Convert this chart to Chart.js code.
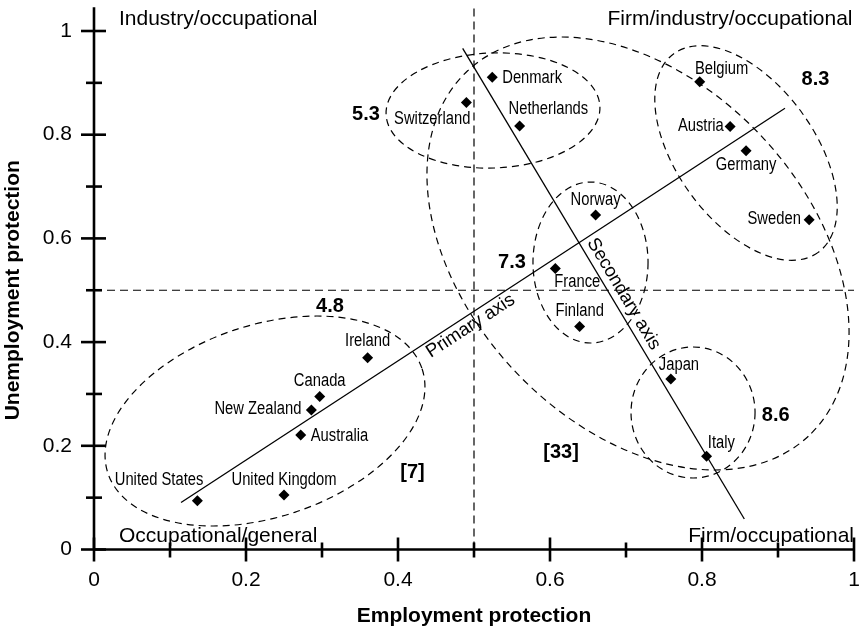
<!DOCTYPE html>
<html><head><meta charset="utf-8">
<script src="https://cdn.jsdelivr.net/npm/chart.js@4"></script>
<style>html,body{margin:0;padding:0;background:#fff}#wrap{width:862px;height:631px;position:relative}</style>
</head><body><div id="wrap"><canvas id="c" width="862" height="631"></canvas></div>
<script>
// ---------- data ----------
const countries = ['United States','United Kingdom','Australia','New Zealand','Canada','Ireland',
  'Switzerland','Denmark','Netherlands','Belgium','Austria','Germany','Sweden',
  'Norway','France','Finland','Japan','Italy'];
const employmentProtection = [0.136,0.250,0.272,0.286,0.297,0.360,
  0.490,0.524,0.560,0.797,0.837,0.858,0.941,
  0.660,0.607,0.639,0.759,0.806];
const unemploymentProtection = [0.094,0.105,0.221,0.269,0.295,0.370,
  0.862,0.911,0.817,0.902,0.816,0.769,0.636,
  0.645,0.542,0.430,0.329,0.180];
const xTickValues = [0,0.1,0.2,0.3,0.4,0.5,0.6,0.7,0.8,0.9,1];
const yTickValues = [0,0.1,0.2,0.3,0.4,0.5,0.6,0.7,0.8,0.9,1];
const primaryAxisX = [0.1145, 0.9092];
const primaryAxisY = [0.0907, 0.851];
const secondaryAxisX = [0.4851, 0.8557];
const secondaryAxisY = [0.9666, 0.0588];
const splitX = 0.5;
const splitY = 0.5;
const clusterScores = ['4.8','5.3','7.3','8.3','8.6','[7]','[33]'];
const clusterScoreX = [0.3105,0.3579,0.550,0.9493,0.897,0.4191,0.6145];
const clusterScoreY = [0.4586,0.8284,0.5423,0.8959,0.2478,0.1379,0.1765];
const quadrantNames = ['Industry/occupational','Firm/industry/occupational','Occupational/general','Firm/occupational'];
const axisNames = ['Primary axis','Secondary axis'];

// ---------- layout (positions / sizes / styles) ----------
const FONT = "'Liberation Sans', Arial, sans-serif";
const NARROW_SCALE = 0.82;
const yAxisTop = 1.046;
const labelLayout = [ // [align, dx, dy] in px relative to the marker
  ['right',6,-20.7],['center',0,-15],['left',10,1],['right',-10,-0.5],['center',0,-15.7],['center',0,-16.2],
  ['right',4,16.3],['left',10,0.8],['left',-11,-16.5],['left',-4.7,-13.2],['right',-6.3,-0.2],['center',0,14.5],['right',-8.3,-0.5],
  ['center',0,-15.5],['left',-1,13.7],['center',0,-15.7],['left',-12,-13.5],['left',1.3,-13.5]
];
const ellipses = [ // centre in data units, radii in x-axis units, angle in degrees
  {cx:0.225, cy:0.2478, rx:0.2178, ry:0.1263, rot:-18.4},
  {cx:0.525, cy:0.8467, rx:0.1408, ry:0.0757, rot:-2},
  {cx:0.8579, cy:0.7647, rx:0.1616, ry:0.0907, rot:54},
  {cx:0.6533, cy:0.5535, rx:0.0757, ry:0.1059, rot:0},
  {cx:0.7882, cy:0.2642, rx:0.0816, ry:0.0862, rot:0},
  {cx:0.7158, cy:0.5709, rx:0.3287, ry:0.2241, rot:47}
];
const isMajor = v => Math.round(v*10) % 2 === 0;
const fmt = v => String(Number(v.toFixed(1)));
const zeroPad = s => { s.paddingTop = 0; s.paddingBottom = 0; s.paddingLeft = 0; s.paddingRight = 0; };

const decor = {
  id: 'decor',
  afterDraw(chart) {
    const {ctx, scales:{x, y}, chartArea:ca} = chart;
    const px = v => x.getPixelForValue(v), py = v => y.getPixelForValue(v);
    const unit = px(1) - px(0);
    ctx.save();
    ctx.strokeStyle = '#000'; ctx.fillStyle = '#000';
    // ellipses
    ctx.lineWidth = 1.2; ctx.setLineDash([7,5]);
    ellipses.forEach(e => {
      ctx.beginPath();
      ctx.ellipse(px(e.cx), py(e.cy), e.rx*unit, e.ry*unit, e.rot*Math.PI/180, 0, Math.PI*2);
      ctx.stroke();
    });
    ctx.setLineDash([]);
    // axes
    const x0 = px(0), y0 = py(0);
    ctx.lineWidth = 2.6;
    ctx.beginPath(); ctx.moveTo(x0, y0); ctx.lineTo(x0, py(yAxisTop)); ctx.stroke();
    ctx.beginPath(); ctx.moveTo(x0, y0); ctx.lineTo(px(1), y0); ctx.stroke();
    xTickValues.forEach(v => {
      const p = px(v), m = isMajor(v);
      ctx.beginPath(); ctx.moveTo(p, y0 - (m?12:7)); ctx.lineTo(p, y0 + (m?12:8)); ctx.stroke();
    });
    yTickValues.forEach(v => {
      const p = py(v), m = isMajor(v);
      ctx.beginPath(); ctx.moveTo(x0 - (m?13:8), p); ctx.lineTo(x0 + (m?12:8), p); ctx.stroke();
    });
    // country labels (narrow face)
    ctx.font = '18px ' + FONT;
    ctx.textBaseline = 'middle';
    countries.forEach((c,i) => {
      const [al, dx, dy] = labelLayout[i];
      ctx.save();
      ctx.translate(px(employmentProtection[i]) + dx, py(unemploymentProtection[i]) + dy);
      ctx.scale(NARROW_SCALE, 1);
      ctx.textAlign = al;
      ctx.fillText(c, 0, 0);
      ctx.restore();
    });
    // cluster scores
    ctx.font = 'bold 20px ' + FONT;
    ctx.textAlign = 'center'; ctx.textBaseline = 'alphabetic';
    clusterScores.forEach((s,i) => ctx.fillText(s, px(clusterScoreX[i]), py(clusterScoreY[i])));
    // quadrant names
    ctx.font = '21px ' + FONT;
    ctx.textAlign = 'left'; ctx.fillText(quadrantNames[0], ca.left + 25, ca.top - 6);
    ctx.textAlign = 'right'; ctx.fillText(quadrantNames[1], ca.right - 1.5, ca.top - 6);
    ctx.textAlign = 'left'; ctx.fillText(quadrantNames[2], ca.left + 25, ca.bottom - 8);
    ctx.textAlign = 'right'; ctx.fillText(quadrantNames[3], ca.right, ca.bottom - 8);
    // axis names along the lines
    ctx.font = '18.5px ' + FONT;
    ctx.textAlign = 'center'; ctx.textBaseline = 'middle';
    const lineText = (txt, xs, ys, t, off) => {
      const ax = px(xs[0]), ay = py(ys[0]), bx = px(xs[1]), by = py(ys[1]);
      let ang = Math.atan2(by - ay, bx - ax);
      if (ang > Math.PI/2) ang -= Math.PI; if (ang < -Math.PI/2) ang += Math.PI;
      ctx.save();
      ctx.translate(ax + (bx-ax)*t, ay + (by-ay)*t);
      ctx.rotate(ang);
      ctx.fillText(txt, 0, off);
      ctx.restore();
    };
    lineText(axisNames[0], primaryAxisX, primaryAxisY, 0.47, 10.5);
    lineText(axisNames[1], secondaryAxisX, secondaryAxisY, 0.535, -12);
    ctx.restore();
  }
};

const pts = countries.map((c,i) => ({x: employmentProtection[i], y: unemploymentProtection[i]}));
new Chart(document.getElementById('c'), {
  type: 'scatter',
  data: { datasets: [
    { label: 'Countries', data: pts, pointStyle: 'rectRot', pointRadius: 5.5, pointHoverRadius: 5.5,
      backgroundColor: '#000', borderColor: '#000', borderWidth: 0 },
    { label: axisNames[0], type: 'line', data: [{x:primaryAxisX[0], y:primaryAxisY[0]},{x:primaryAxisX[1], y:primaryAxisY[1]}],
      borderColor: '#000', borderWidth: 1.3, pointRadius: 0, fill: false, clip: false },
    { label: axisNames[1], type: 'line', data: [{x:secondaryAxisX[0], y:secondaryAxisY[0]},{x:secondaryAxisX[1], y:secondaryAxisY[1]}],
      borderColor: '#000', borderWidth: 1.3, pointRadius: 0, fill: false, clip: false },
    { label: 'split-h', type: 'line', data: [{x:0, y:splitY},{x:1, y:splitY}],
      borderColor: '#000', borderWidth: 1.2, borderDash: [8,5], pointRadius: 0, fill: false, clip: false },
    { label: 'split-v', type: 'line', data: [{x:splitX, y:0},{x:splitX, y:yAxisTop}],
      borderColor: '#000', borderWidth: 1.2, borderDash: [8,5], pointRadius: 0, fill: false, clip: false }
  ]},
  options: {
    responsive: false, animation: false, devicePixelRatio: 1,
    layout: { padding: { top: 31, right: 8, left: 0, bottom: 0 } },
    plugins: { legend: { display: false }, tooltip: { enabled: false } },
    scales: {
      x: { type: 'linear', min: 0, max: 1,
        afterBuildTicks: s => { s.ticks = xTickValues.map(v => ({value: v})); },
        afterFit: s => { s.height = 81.5; zeroPad(s); },
        grid: { display: false, drawTicks: false }, border: { display: false },
        ticks: { padding: 18.6, color: '#000', font: { family: FONT, size: 21 }, maxRotation: 0, autoSkip: false,
          callback: v => isMajor(v) ? fmt(v) : '' },
        title: { display: true, text: 'Employment protection', color: '#000',
          font: { family: FONT, size: 21, weight: 'bold' }, padding: { top: 0, bottom: 2.6 } } },
      y: { type: 'linear', min: 0, max: 1,
        afterBuildTicks: s => { s.ticks = yTickValues.map(v => ({value: v})); },
        afterFit: s => { s.width = 94; zeroPad(s); },
        grid: { display: false, drawTicks: false }, border: { display: false },
        ticks: { padding: 22, color: '#000', font: { family: FONT, size: 21 }, autoSkip: false,
          callback: v => isMajor(v) ? fmt(v) : '' },
        title: { display: true, text: 'Unemployment protection', color: '#000',
          font: { family: FONT, size: 21, weight: 'bold' }, padding: { top: 1.1, bottom: 0 } } }
    }
  },
  plugins: [decor]
});
</script></body></html>
